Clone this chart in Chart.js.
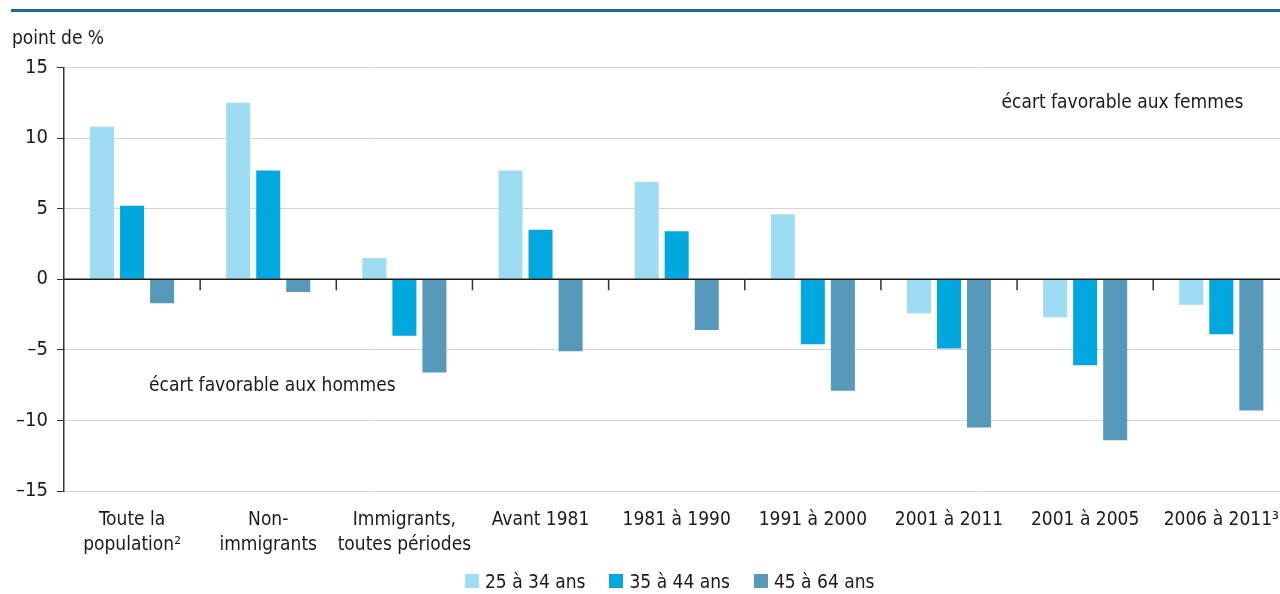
<!DOCTYPE html>
<html lang="fr">
<head>
<meta charset="utf-8">
<script src="https://cdn.jsdelivr.net/npm/chart.js@4/dist/chart.umd.min.js"></script>
<style>
  html, body { margin: 0; padding: 0; background: #fff; overflow: hidden; width: 1280px; height: 594px; }
  #rule { position: absolute; left: 11px; top: 9px; width: 1269px; height: 3px; background: #1c6b9c; }
  #wrap { position: absolute; left: 0; top: 0; width: 1295px; height: 594px; }
  #legend { position: absolute; left: 465px; top: 570px; display: flex; font: 19px "DejaVu Sans Condensed", sans-serif; color: #1a1a1a; }
  #legend .item { display: flex; align-items: center; margin-right: 24px; }
  #legend .sw { width: 14px; height: 14px; margin-right: 6px; }
</style>
</head>
<body>
<div id="rule"></div>
<div id="wrap"><canvas id="c" width="1295" height="594"></canvas></div>
<div id="legend"></div>
<script>
// Écart entre femmes et hommes, en points de pourcentage
const categories = [
  ['Toute la', 'population²'],
  ['Non-', 'immigrants'],
  ['Immigrants,', 'toutes périodes'],
  'Avant 1981',
  '1981 à 1990',
  '1991 à 2000',
  '2001 à 2011',
  '2001 à 2005',
  '2006 à 2011³'
];
const seriesNames = ['25 à 34 ans', '35 à 44 ans', '45 à 64 ans'];
const age25to34 = [10.8, 12.5, 1.5, 7.7, 6.9, 4.6, -2.4, -2.7, -1.8];
const age35to44 = [5.2, 7.7, -4.0, 3.5, 3.4, -4.6, -4.9, -6.1, -3.9];
const age45to64 = [-1.7, -0.9, -6.6, -5.1, -3.6, -7.9, -10.5, -11.4, -9.3];
const yTicks = [15, 10, 5, 0, -5, -10, -15];
const colors = ['#9ddcf3', '#00a8df', '#5799ba'];
const unitLabel = 'point de %';
const noteFemmes = 'écart favorable aux femmes';
const noteHommes = 'écart favorable aux hommes';

const FONT = '"DejaVu Sans Condensed", sans-serif';
const TEXT = '#1a1a1a';

const decor = {
  id: 'decor',
  afterDatasetsDraw(chart) {
    const { ctx, chartArea, scales: { x, y } } = chart;
    const y0 = y.getPixelForValue(0);
    ctx.save();
    // zero line
    ctx.strokeStyle = '#1a1a1a';
    ctx.lineWidth = 1.5;
    ctx.beginPath();
    ctx.moveTo(chartArea.left, y0);
    ctx.lineTo(chartArea.right, y0);
    ctx.stroke();
    // category separators hanging below the zero line
    const step = x.getPixelForValue(1) - x.getPixelForValue(0);
    ctx.strokeStyle = '#333';
    ctx.lineWidth = 1.5;
    ctx.beginPath();
    for (let i = 0; i < categories.length - 1; i++) {
      const xb = x.getPixelForValue(i) + step / 2;
      ctx.moveTo(xb, y0);
      ctx.lineTo(xb, y0 + 11);
    }
    ctx.stroke();
    // notes
    ctx.fillStyle = TEXT;
    ctx.font = '19px ' + FONT;
    ctx.textBaseline = 'middle';
    ctx.textAlign = 'right';
    ctx.fillText(noteFemmes, x.getPixelForValue(8) + 22, y.getPixelForValue(12.5));
    ctx.textAlign = 'left';
    ctx.fillText(noteHommes, x.getPixelForValue(0) + 17, y.getPixelForValue(-7.6));
    // unit
    ctx.textBaseline = 'alphabetic';
    ctx.fillText(unitLabel, 12, 44);
    ctx.restore();
  }
};

const datasets = [age25to34, age35to44, age45to64].map((d, i) => ({
  label: seriesNames[i],
  data: d,
  backgroundColor: colors[i],
  borderWidth: 0,
  categoryPercentage: 90 / 136,
  barPercentage: 0.8
}));

new Chart(document.getElementById('c'), {
  type: 'bar',
  data: { labels: categories, datasets },
  plugins: [decor],
  options: {
    responsive: false,
    animation: false,
    layout: { padding: { top: 67.5, right: 2, bottom: 33, left: 0 } },
    plugins: { legend: { display: false }, tooltip: { enabled: false } },
    scales: {
      x: {
        grid: { display: false, drawTicks: false },
        border: { display: false },
        ticks: { color: TEXT, font: { family: FONT, size: 19, lineHeight: 1.35 }, padding: 16, maxRotation: 0, autoSkip: false },
        afterFit(s) { s.height = 70; }
      },
      y: {
        min: -15, max: 15,
        afterBuildTicks(s) { s.ticks = yTicks.map(v => ({ value: v })); },
        afterFit(s) { s.width = 64; },
        grid: {
          color: '#d4d4d4',
          lineWidth: 1,
          tickColor: '#333',
          tickLength: 7,
          drawTicks: true
        },
        border: { display: true, color: '#333', width: 1.5 },
        ticks: {
          color: TEXT,
          padding: 9,
          font: { family: FONT, size: 20 },
          callback: v => (v < 0 ? '–' + Math.abs(v) : String(v))
        }
      }
    }
  }
});

// legend
const lg = document.getElementById('legend');
seriesNames.forEach((n, i) => {
  const it = document.createElement('div');
  it.className = 'item';
  const sw = document.createElement('span');
  sw.className = 'sw';
  sw.style.background = colors[i];
  const tx = document.createElement('span');
  tx.textContent = n;
  it.appendChild(sw);
  it.appendChild(tx);
  lg.appendChild(it);
});
</script>
</body>
</html>
